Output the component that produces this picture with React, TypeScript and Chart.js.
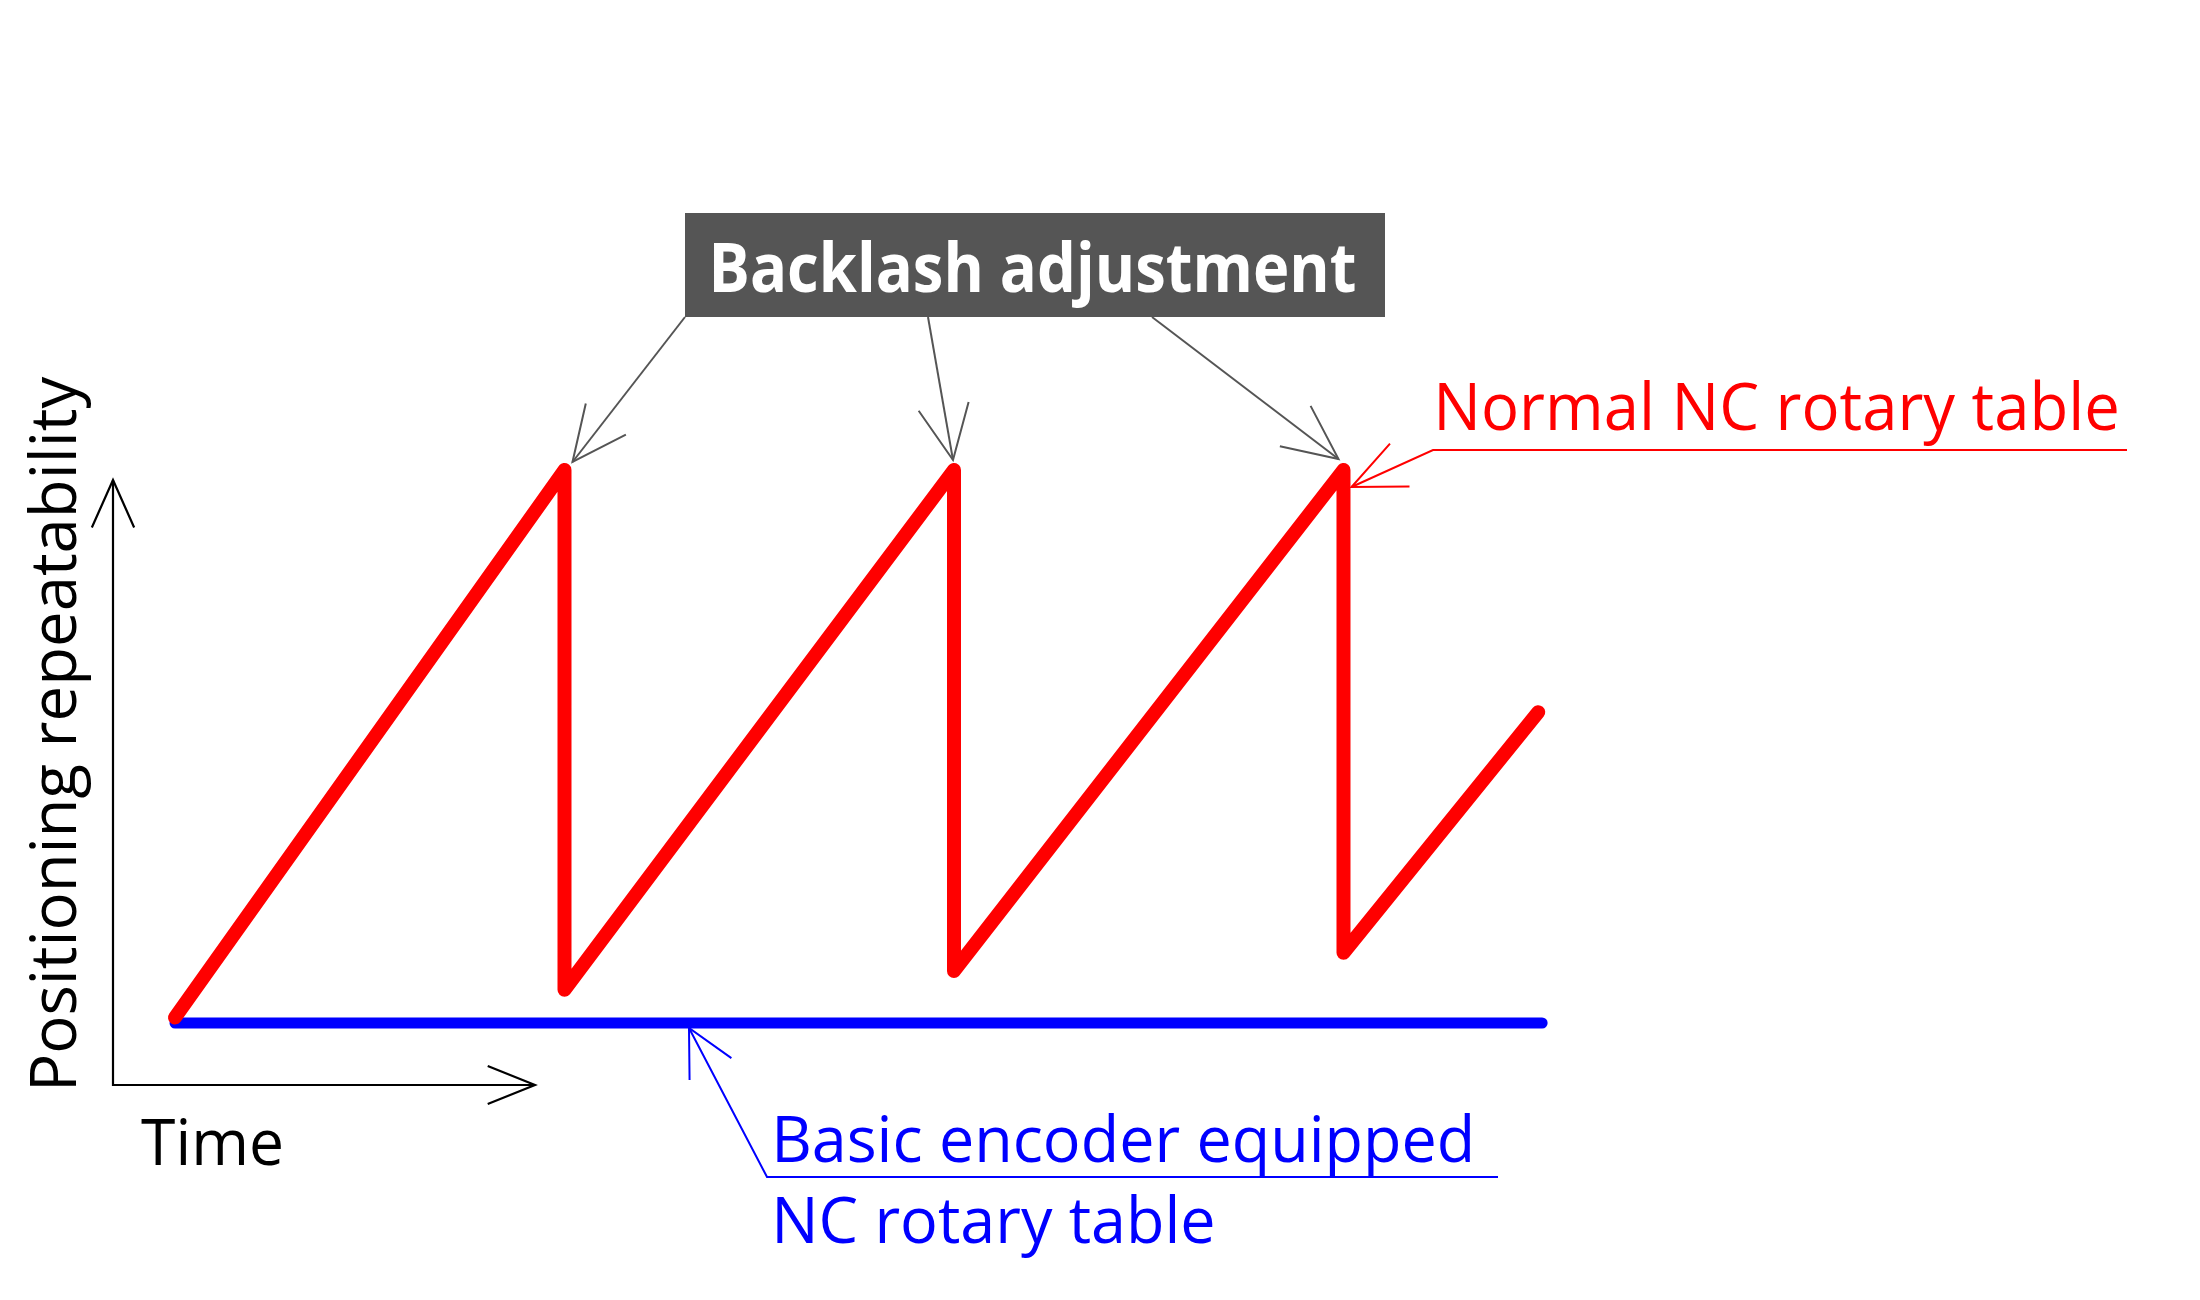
import { useEffect, useRef } from "react";
import { Chart, registerables } from "chart.js";

Chart.register(...registerables);

// Time axis (arbitrary units: one backlash adjustment period = 1)
const normalTimes = [0, 1, 1, 2, 2, 3, 3, 3.5];
// Positioning repeatability error of a normal NC rotary table (arbitrary units)
const normalValues = [0.1, 10, 0.6, 10, 0.94, 10, 1.27, 5.62];
// Basic encoder equipped NC rotary table stays constant
const encoderTimes = [0, 3.51];
const encoderValues = [0, 0];

const yAxisTitle = "Positioning repeatability";
const xAxisTitle = "Time";
const calloutTitle = "Backlash adjustment";
const normalLabel = "Normal NC rotary table";
const encoderLabelLines = ["Basic encoder equipped", "NC rotary table"];

const FONT = "'Open Sans', 'Noto Sans', sans-serif";

function drawText(
  ctx: CanvasRenderingContext2D,
  text: string,
  weight: string,
  capHeight: number,
  inkWidth: number,
  x: number,
  baseline: number
) {
  ctx.save();
  ctx.font = `${weight} 100px ${FONT}`;
  const cap = ctx.measureText("H").actualBoundingBoxAscent;
  const size = (100 * capHeight) / cap;
  ctx.font = `${weight} ${size}px ${FONT}`;
  const m = ctx.measureText(text);
  const w = m.actualBoundingBoxLeft + m.actualBoundingBoxRight;
  const sx = inkWidth / w;
  ctx.translate(x, baseline);
  ctx.scale(sx, 1);
  ctx.textAlign = "left";
  ctx.textBaseline = "alphabetic";
  ctx.fillText(text, m.actualBoundingBoxLeft, 0);
  ctx.restore();
  return { size, sx };
}

function arrowHead(
  ctx: CanvasRenderingContext2D,
  tipX: number,
  tipY: number,
  fromX: number,
  fromY: number,
  len: number,
  deg: number
) {
  const a = Math.atan2(fromY - tipY, fromX - tipX);
  const r = (deg * Math.PI) / 180;
  ctx.beginPath();
  ctx.moveTo(tipX + len * Math.cos(a - r), tipY + len * Math.sin(a - r));
  ctx.lineTo(tipX, tipY);
  ctx.lineTo(tipX + len * Math.cos(a + r), tipY + len * Math.sin(a + r));
  ctx.stroke();
}

const diagramPlugin = {
  id: "diagram",
  afterDatasetsDraw(chart: any) {
    const ctx: CanvasRenderingContext2D = chart.ctx;
    const xs = chart.scales.x;
    const ys = chart.scales.y;
    const px = (t: number) => xs.getPixelForValue(t);
    const py = (v: number) => ys.getPixelForValue(v);

    ctx.save();
    ctx.lineCap = "butt";
    ctx.lineJoin = "miter";

    // Axes with open arrow heads
    ctx.strokeStyle = "#000000";
    ctx.lineWidth = 2.2;
    const ox = 113;
    const oy = 1085;
    ctx.beginPath();
    ctx.moveTo(ox, 480);
    ctx.lineTo(ox, oy);
    ctx.lineTo(535, oy);
    ctx.stroke();
    arrowHead(ctx, ox, 480, ox, 600, 52, 24);
    arrowHead(ctx, 535, oy, 400, oy, 51, 22);

    ctx.fillStyle = "#000000";
    drawText(ctx, xAxisTitle, "normal", 47, 140, 141, 1165);
    ctx.save();
    ctx.translate(76, 1086);
    ctx.rotate(-Math.PI / 2);
    drawText(ctx, yAxisTitle, "normal", 47, 710, 0, 0);
    ctx.restore();

    // Callout box
    ctx.fillStyle = "#555555";
    ctx.fillRect(685, 213, 700, 104);
    ctx.fillStyle = "#ffffff";
    drawText(ctx, calloutTitle, "bold", 49, 641, 714, 292);

    // Gray leader arrows to the three peaks
    ctx.strokeStyle = "#555555";
    ctx.lineWidth = 2;
    const peaks = [1, 2, 3];
    const sources = [
      [685, 317],
      [928, 317],
      [1152, 317],
    ];
    const tipOffsets = [
      [8, -8],
      [-1, -10],
      [-5, -11],
    ];
    peaks.forEach((t, i) => {
      const tx = px(t) + tipOffsets[i][0];
      const ty = py(10) + tipOffsets[i][1];
      const [sx, sy] = sources[i];
      ctx.beginPath();
      ctx.moveTo(sx, sy);
      ctx.lineTo(tx, ty);
      ctx.stroke();
      arrowHead(ctx, tx, ty, sx, sy, 60, 25);
    });

    // Red label
    ctx.strokeStyle = "#ff0000";
    ctx.fillStyle = "#ff0000";
    ctx.lineWidth = 2;
    const rtx = px(3) + 8;
    const rty = py(10) - 30 + 47;
    ctx.beginPath();
    ctx.moveTo(2127, 450);
    ctx.lineTo(1433, 450);
    ctx.lineTo(rtx, rty);
    ctx.stroke();
    arrowHead(ctx, rtx, rty, 1433, 450, 58, 24);
    drawText(ctx, normalLabel, "normal", 48, 678, 1439, 430);

    // Blue label
    ctx.strokeStyle = "#0000ff";
    ctx.fillStyle = "#0000ff";
    const btx = 689;
    const bty = py(0) + 5;
    ctx.beginPath();
    ctx.moveTo(1498, 1177);
    ctx.lineTo(767, 1177);
    ctx.lineTo(btx, bty);
    ctx.stroke();
    arrowHead(ctx, btx, bty, 767, 1177, 52, 27);
    const r = drawText(ctx, encoderLabelLines[0], "normal", 47, 693, 777, 1162);
    ctx.save();
    ctx.font = `normal ${r.size}px ${FONT}`;
    const m2 = ctx.measureText(encoderLabelLines[1]);
    ctx.translate(777, 1243);
    ctx.scale(r.sx, 1);
    ctx.fillText(encoderLabelLines[1], m2.actualBoundingBoxLeft, 0);
    ctx.restore();

    ctx.restore();
  },
};

export default function App() {
  const canvasRef = useRef<HTMLCanvasElement | null>(null);

  useEffect(() => {
    const canvas = canvasRef.current;
    if (!canvas) return;
    const chart = new Chart(canvas, {
      type: "scatter",
      data: {
        datasets: [
          {
            label: normalLabel,
            data: normalTimes.map((t, i) => ({ x: t, y: normalValues[i] })),
            showLine: true,
            borderColor: "#ff0000",
            backgroundColor: "#ff0000",
            borderWidth: 14,
            borderJoinStyle: "round",
            borderCapStyle: "round",
            pointRadius: 0,
            tension: 0,
            order: 0,
          },
          {
            label: encoderLabelLines.join(" "),
            data: encoderTimes.map((t, i) => ({ x: t, y: encoderValues[i] })),
            showLine: true,
            borderColor: "#0000ff",
            backgroundColor: "#0000ff",
            borderWidth: 11,
            borderCapStyle: "round",
            pointRadius: 0,
            tension: 0,
            order: 1,
          },
        ],
      },
      options: {
        responsive: false,
        animation: false,
        devicePixelRatio: 1,
        layout: { padding: 0 },
        plugins: {
          legend: { display: false },
          title: { display: false },
          tooltip: { enabled: false },
        },
        scales: {
          x: { type: "linear", display: false, min: -0.4493, max: 5.199 },
          y: { type: "linear", display: false, min: -5.009, max: 18.499 },
        },
      },
      plugins: [diagramPlugin],
    });
    return () => chart.destroy();
  }, []);

  return (
    <div
      style={{
        position: "fixed",
        left: 0,
        top: 0,
        width: 2200,
        height: 1300,
        background: "#ffffff",
      }}
    >
      <canvas ref={canvasRef} width={2200} height={1300} style={{ display: "block" }} />
    </div>
  );
}
